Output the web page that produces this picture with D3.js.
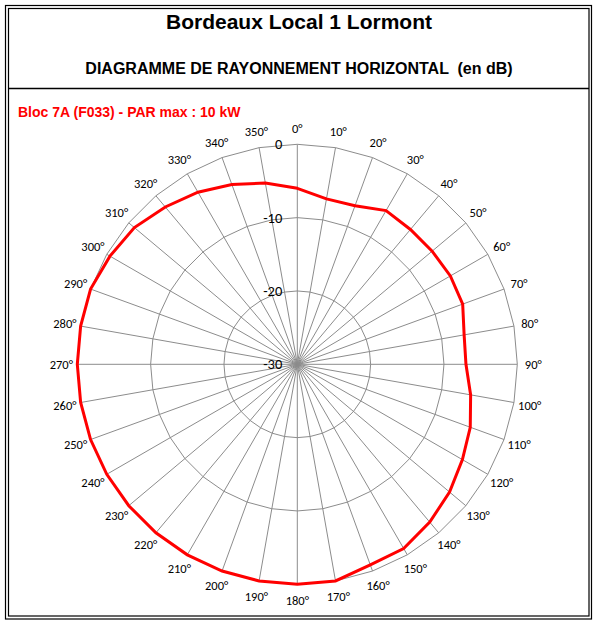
<!DOCTYPE html>
<html>
<head>
<meta charset="utf-8">
<script src="https://cdn.jsdelivr.net/npm/d3@7"></script>
<style>
  body { margin: 0; background: #fff; }
  svg { display: block; }
</style>
</head>
<body>
<div id="chart"></div>
<script>
// horizontal pattern, one value (dB) every 10 degrees
let angles = d3.range(0, 360, 10);
let attenuation = [
  -6.0, -7.1, -7.0, -5.8, -6.0, -6.0, -5.9, -6.0, -6.9,   // 0..80
  -7.0, -6.0, -4.9, -4.0, -2.9, -1.9, -1.0, -0.9, 0,      // 90..170
  0, 0, 0, 0, 0, 0, 0, 0, 0,                              // 180..260
  0, 0, 0, -0.5, -1.0, -2.0, -2.9, -3.9, -4.9             // 270..350
];
let ringTicks = [0, -10, -20, -30];

let title = "Bordeaux Local 1 Lormont",
    subtitle = "DIAGRAMME DE RAYONNEMENT HORIZONTAL  (en dB)",
    serie = "Bloc 7A (F033) - PAR max : 10 kW";

let width = 598, height = 626
    , cx = 297.3, cy = 364.3
    , radius = 220;

let svg = d3.select("#chart").append("svg")
    .attr("width", width)
    .attr("height", height);

// double frame
svg.append("rect")
    .attr("x", 5.5).attr("y", 5.5)
    .attr("width", 586).attr("height", 613.5)
    .attr("fill", "none").attr("stroke", "#000").attr("stroke-width", 1.2);
svg.append("rect")
    .attr("x", 8.5).attr("y", 8.5)
    .attr("width", 580.5).attr("height", 607.5)
    .attr("fill", "none").attr("stroke", "#000").attr("stroke-width", 1.2);
svg.append("line")
    .attr("x1", 8.5).attr("x2", 589)
    .attr("y1", 88.5).attr("y2", 88.5)
    .attr("stroke", "#000").attr("stroke-width", 1.5);

svg.append("text")
    .attr("x", 299).attr("y", 28.5)
    .attr("text-anchor", "middle")
    .style("font", "bold 21px 'Liberation Sans', Arial, sans-serif")
    .text(title);

svg.append("text")
    .attr("x", 299).attr("y", 74)
    .attr("text-anchor", "middle")
    .style("font", "bold 16px 'Liberation Sans', Arial, sans-serif")
    .style("white-space", "pre")
    .text(subtitle);

svg.append("text")
    .attr("x", 18).attr("y", 117)
    .style("font", "bold 14px 'Liberation Sans', Arial, sans-serif")
    .style("fill", "#ff0000")
    .text(serie);

let angle = d3.scaleLinear()
    .domain([0, 360])
    .range([0, 2 * Math.PI]);

let r = d3.scaleLinear()
    .domain([-30, 0])
    .range([0, radius]);

let g = svg.append("g")
    .attr("transform", "translate(" + cx + "," + cy + ")");

// spokes
g.selectAll(".spoke")
    .data(angles)
    .enter().append("line")
    .attr("class", "spoke")
    .attr("x1", 0).attr("y1", 0)
    .attr("x2", d => r(0) * Math.sin(angle(d)))
    .attr("y2", d => -r(0) * Math.cos(angle(d)))
    .attr("stroke", "#8c8c8c")
    .attr("stroke-width", 1);

// polygon rings
let ring = d3.lineRadial()
    .angle(d => angle(d.a))
    .radius(d => r(d.v))
    .curve(d3.curveLinearClosed);

g.selectAll(".ring")
    .data(ringTicks.filter(t => t > -30))
    .enter().append("path")
    .attr("class", "ring")
    .attr("d", t => ring(angles.map(a => ({a: a, v: t}))))
    .attr("fill", "none")
    .attr("stroke", "#8c8c8c")
    .attr("stroke-width", 1);

// ring labels
g.selectAll(".ringlabel")
    .data(ringTicks)
    .enter().append("text")
    .attr("class", "ringlabel")
    .attr("x", -15)
    .attr("y", d => -r(d))
    .attr("dy", "0.35em")
    .attr("text-anchor", "end")
    .style("font", "14.5px Calibri, Carlito, Lato, sans-serif")
    .style("fill", "#000")
    .text(d => d);

// angle labels
g.selectAll(".anglelabel")
    .data(angles)
    .enter().append("text")
    .attr("class", "anglelabel")
    .attr("x", d => 236 * Math.sin(angle(d)))
    .attr("y", d => -236 * Math.cos(angle(d)))
    .attr("dy", "0.35em")
    .attr("text-anchor", "middle")
    .style("font", "12.5px Calibri, Carlito, Lato, sans-serif")
    .style("fill", "#000")
    .text(d => d + "°");

// pattern
let pattern = angles.map((a, i) => ({a: a, v: attenuation[i]}));

g.append("path")
    .datum(pattern)
    .attr("d", ring)
    .attr("fill", "none")
    .attr("stroke", "#ff0000")
    .attr("stroke-width", 3)
    .attr("stroke-linejoin", "miter");
</script>
</body>
</html>
